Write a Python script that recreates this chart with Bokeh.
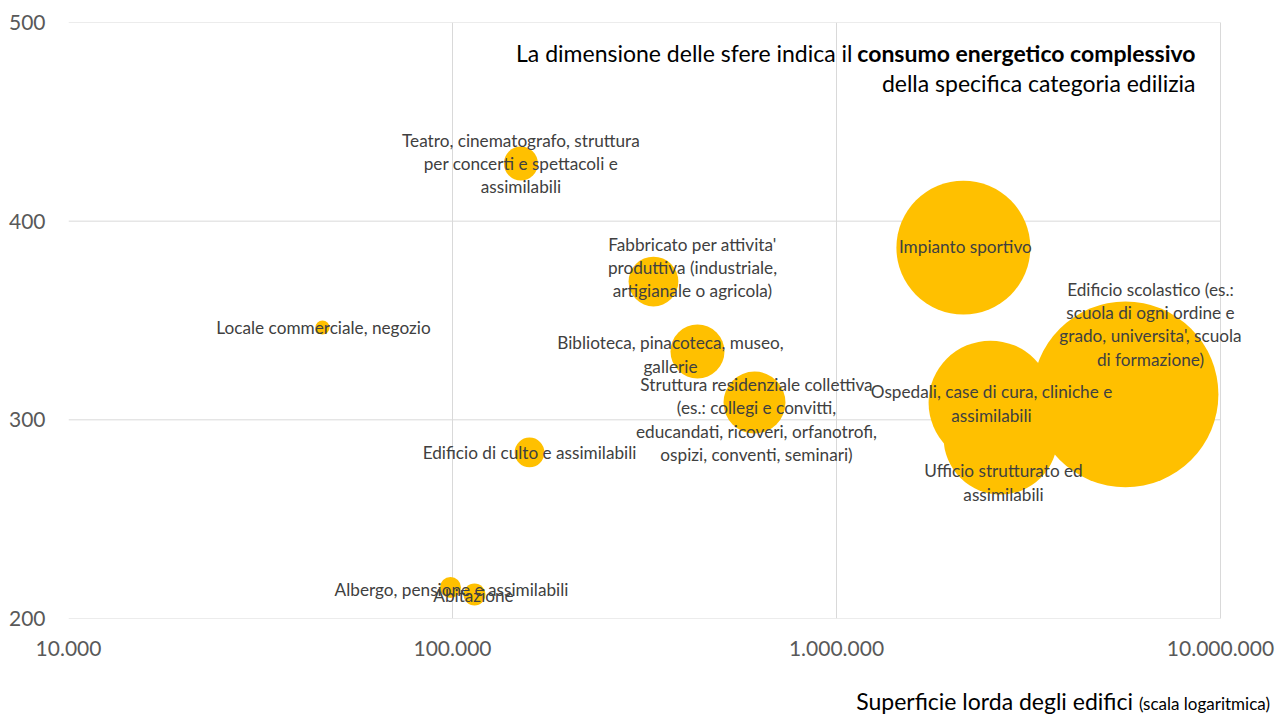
import math
from bokeh.plotting import figure
from bokeh.models import ColumnDataSource, FixedTicker, CustomJSTickFormatter, Label, Div
from bokeh.layouts import column
from bokeh.embed import file_html
from bokeh.resources import INLINE
from bokeh.core.properties import value
import numpy as np

# ---- data ----
categorie = [
    "Teatro, cinematografo, struttura\nper concerti e spettacoli e\nassimilabili",
    "Fabbricato per attivita'\nproduttiva (industriale,\nartigianale o agricola)",
    "Impianto sportivo",
    "Edificio scolastico (es.:\nscuola di ogni ordine e\ngrado, universita', scuola\ndi formazione)",
    "Ospedali, case di cura, cliniche e\nassimilabili",
    "Ufficio strutturato ed\nassimilabili",
    "Locale commerciale, negozio",
    "Biblioteca, pinacoteca, museo,\ngallerie",
    "Struttura residenziale collettiva\n(es.: collegi e convitti,\neducandati, ricoveri, orfanotrofi,\nospizi, conventi, seminari)",
    "Edificio di culto e assimilabili",
    "Albergo, pensione e assimilabili",
    "Abitazione",
]
superficie = [150700, 333700, 2140000, 5656000, 2518000, 2674000,
              45860, 434500, 611600, 158700, 98800, 114100]
consumo_specifico = [429.0, 369.6, 386.7, 312.8, 308.7, 291.1,
                     346.5, 334.4, 308.7, 283.6, 215.6, 212.1]
consumo_totale = [29, 62, 449, 865, 384, 325, 5, 73, 96, 22, 11, 12]

x_ticks = [10000, 100000, 1000000, 10000000]
y_ticks = [200, 300, 400, 500]

# ---- layout (label offsets in screen px, positive dy = down) ----
label_dx = [0, 39, 2, 25, 1, 3, 1, -27, 2, 0, 1, -1]
label_dy = [0, -14, -1, -70, 1, 45, 0, 3, 17, 0, 2, 1]

bubble_scale = 6.32
sizes = [bubble_scale * np.sqrt(c) for c in consumo_totale]

src = ColumnDataSource(dict(x=superficie, y=consumo_specifico, size=sizes,
                            text=categorie, dx=label_dx, dy=label_dy))

W, H = 1284, 684
LEFT, TOP, PLOT_RIGHT, BOTTOM = 68, 22, 1220, 618
FRAME_RIGHT = 1280          # frame extends a bit so labels can overflow
decade_px = (PLOT_RIGHT - LEFT) / (math.log10(x_ticks[-1]) - math.log10(x_ticks[0]))
x_end = 10 ** (math.log10(x_ticks[0]) + (FRAME_RIGHT - LEFT) / decade_px)

p = figure(width=W, height=H, x_axis_type="log",
           x_range=(x_ticks[0], x_end), y_range=(y_ticks[0], y_ticks[-1]),
           output_backend="svg", toolbar_location=None,
           min_border_left=LEFT, min_border_right=W - FRAME_RIGHT,
           min_border_top=TOP, min_border_bottom=H - BOTTOM)
p.margin = 0
p.background_fill_color = "white"
p.border_fill_color = "white"
p.outline_line_color = None

p.xaxis.ticker = FixedTicker(ticks=x_ticks, minor_ticks=[])
p.yaxis.ticker = FixedTicker(ticks=y_ticks, minor_ticks=[])
p.xaxis.formatter = CustomJSTickFormatter(code="""
return Math.round(tick).toString().replace(/\\B(?=(\\d{3})+(?!\\d))/g, ".");
""")
for ax in (p.xaxis, p.yaxis):
    ax.axis_line_color = None
    ax.major_tick_line_color = None
    ax.minor_tick_line_color = None
    ax.major_label_text_font = "Lato"
    ax.major_label_text_font_size = "21px"
    ax.major_label_text_color = "#595959"
p.yaxis.major_label_standoff = 17
p.xaxis.major_label_standoff = 16

grid_col = "#d9d9d9"
p.xgrid.grid_line_color = grid_col
p.xgrid.grid_line_width = 1
p.ygrid.grid_line_color = None
# horizontal grid lines and plot-area box, limited to the tick range
p.segment(x0=[x_ticks[0]] * len(y_ticks), x1=[x_ticks[-1]] * len(y_ticks),
          y0=y_ticks, y1=y_ticks, line_color=grid_col, line_width=1)
p.segment(x0=[x_ticks[-1]], x1=[x_ticks[-1]], y0=[y_ticks[0]], y1=[y_ticks[-1]],
          line_color=grid_col, line_width=1)

p.scatter("x", "y", size="size", source=src, fill_color="#FFC000",
          line_color=None, fill_alpha=1.0)

p.text("x", "y", text="text", x_offset="dx", y_offset="dy", source=src,
       text_align="center", text_baseline="middle",
       text_font=value("Lato"), text_font_size="17.2px",
       text_color="#404040", text_line_height=1.1)

# ---- annotation (top right) ----
ann_font = "23px"
p.add_layout(Label(x=8.61e6, y=484.4, text="consumo energetico complessivo",
                   text_align="right", text_baseline="middle",
                   text_font="Lato", text_font_size=ann_font,
                   text_font_style="bold", text_color="#000000"))
p.add_layout(Label(x=1.1006e6, y=484.4, text="La dimensione delle sfere indica il",
                   text_align="right", text_baseline="middle",
                   text_font="Lato", text_font_size=ann_font,
                   text_color="#000000"))
p.add_layout(Label(x=8.61e6, y=469.3, text="della specifica categoria edilizia",
                   text_align="right", text_baseline="middle",
                   text_font="Lato", text_font_size=ann_font,
                   text_color="#000000"))

# ---- axis title ----
title_html = (
    '<div style="width:1270px;text-align:right;font-family:Lato;'
    'font-size:23px;line-height:27px;padding-top:4px;color:#000;white-space:nowrap;">'
    'Superficie lorda degli edifici '
    '<span style="font-size:17px;">(scala logaritmica)</span></div>'
)
div = Div(text=title_html, width=W, height=30, margin=0)

layout = column(p, div, spacing=0)
open("out.html", "w").write(file_html(layout, INLINE))
